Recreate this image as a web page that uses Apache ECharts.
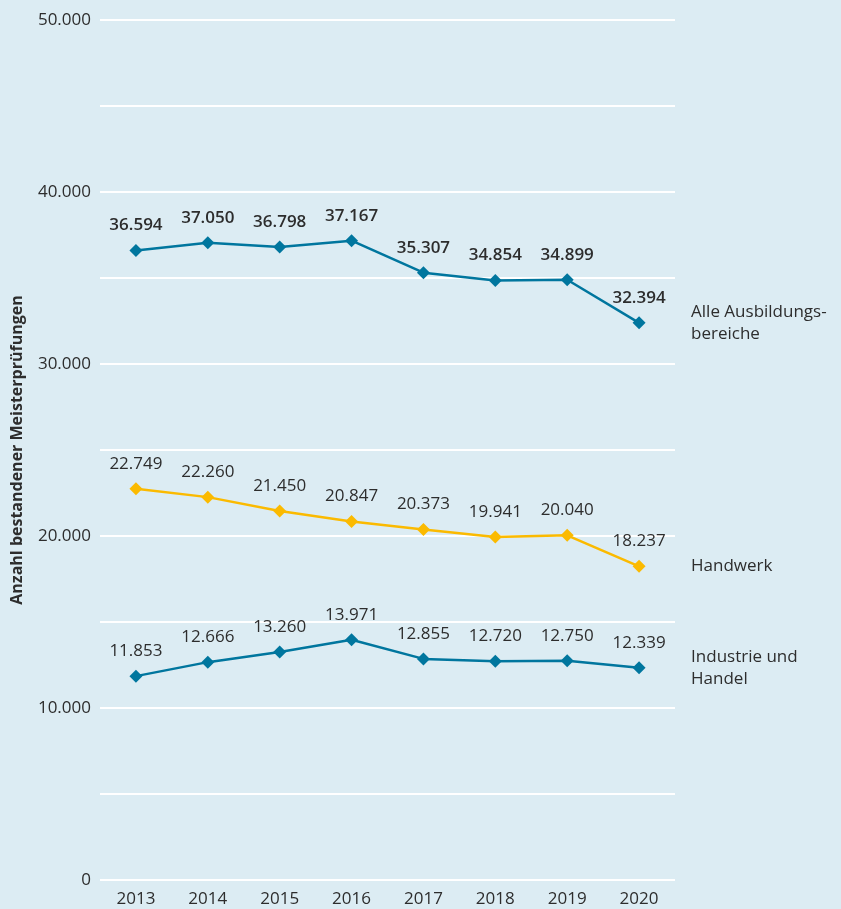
<!DOCTYPE html>
<html>
<head>
<meta charset="utf-8">
<script src="https://cdn.jsdelivr.net/npm/echarts@6/dist/echarts.min.js"></script>
<style>
  html, body { margin: 0; padding: 0; background: #dcecf3; }
  #chart { width: 841px; height: 909px; }
</style>
</head>
<body>
<div id="chart"></div>
<script>
const years = ['2013', '2014', '2015', '2016', '2017', '2018', '2019', '2020']
const alleBereiche = [36594, 37050, 36798, 37167, 35307, 34854, 34899, 32394]
const handwerk = [22749, 22260, 21450, 20847, 20373, 19941, 20040, 18237]
const industrieHandel = [11853, 12666, 13260, 13971, 12855, 12720, 12750, 12339]

const teal = '#00769e'
const yellow = '#fbba00'
const textColor = '#2d2d2d'
const font = 'Open Sans'

// deutsche Tausenderpunkte
function fmt(v) {
  return String(v).replace(/\B(?=(\d{3})+(?!\d))/g, '.')
}

function makeSeries(name, data, color, bold) {
  return {
    name: name,
    type: 'line',
    data: data,
    symbol: 'diamond',
    symbolSize: 13,
    lineStyle: { color: color, width: 2.5 },
    itemStyle: { color: color },
    label: {
      show: true,
      position: 'top',
      distance: 10,
      color: textColor,
      fontFamily: font,
      fontSize: 17,
      fontWeight: bold ? 600 : 'normal',
      formatter: p => fmt(p.value)
    },
    endLabel: {
      show: true,
      distance: 52,
      color: textColor,
      fontFamily: font,
      fontSize: 17,
      lineHeight: 22,
      formatter: p => p.seriesName
    },
    emphasis: { disabled: true }
  }
}

const chart = echarts.init(document.getElementById('chart'))
chart.setOption({
  backgroundColor: '#dcecf3',
  animation: false,
  grid: { left: 100, right: 166, top: 20, bottom: 29, outerBoundsMode: 'none' },
  xAxis: {
    type: 'category',
    data: years,
    axisLine: { show: false },
    axisTick: { show: false },
    axisLabel: { color: textColor, fontFamily: font, fontSize: 17, margin: 11 }
  },
  yAxis: {
    type: 'value',
    min: 0,
    max: 50000,
    interval: 5000,
    name: 'Anzahl bestandener Meisterprüfungen',
    nameLocation: 'middle',
    nameGap: 75,
    nameTextStyle: { color: textColor, fontFamily: font, fontSize: 16, fontWeight: 'bold' },
    axisLine: { show: false },
    axisTick: { show: false },
    splitLine: { lineStyle: { color: '#ffffff', width: 2 } },
    axisLabel: {
      color: textColor,
      fontFamily: font,
      fontSize: 17,
      margin: 9,
      padding: [0, 0, 8, 0],
      formatter: v => (v % 10000 === 0 ? fmt(v) : '')
    }
  },
  series: [
    makeSeries('Alle Ausbildungs-\nbereiche', alleBereiche, teal, true),
    makeSeries('Handwerk', handwerk, yellow, false),
    makeSeries('Industrie und\nHandel', industrieHandel, teal, false)
  ]
})
</script>
</body>
</html>
